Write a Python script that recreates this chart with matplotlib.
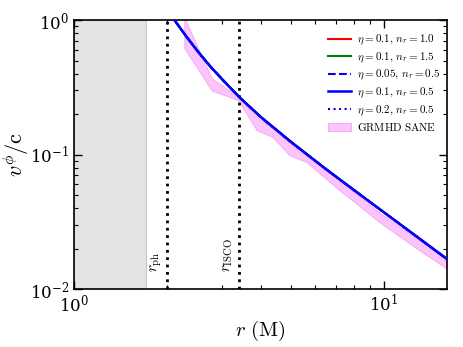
import numpy as np
import matplotlib.pyplot as plt

plt.rcParams['mathtext.fontset'] = 'cm'
plt.rcParams['font.family'] = 'DejaVu Serif'

# characteristic radii (M)
r_horizon = 1.713
r_ph = 2.0
r_isco = 3.40

# model curve v^phi/c vs r
r_model = [2.11, 2.3, 2.5, 2.75, 3.0, 3.43, 4.0, 5.0, 6.5, 9.0, 12.5, 15.9, 16.3]
v_model = [1.0, 0.759, 0.591, 0.454, 0.365, 0.265, 0.191, 0.125, 0.0781, 0.0446, 0.0255, 0.0169, 0.0162]

# GRMHD SANE band
r_band = [2.27, 2.78, 3.38, 3.89, 4.38, 4.96, 5.63, 7.19, 9.68, 13.0, 15.9, 16.3]
v_low = [0.62, 0.30, 0.255, 0.152, 0.135, 0.099, 0.088, 0.0545, 0.0315, 0.0195, 0.0143, 0.0138]
v_high = [1.05, 0.37, 0.272, 0.19, 0.158, 0.122, 0.098, 0.064, 0.037, 0.0232, 0.0166, 0.0160]

fig = plt.figure(figsize=(4.63, 3.47), dpi=100)
ax = fig.add_axes([0.160, 0.167, 0.8054, 0.775])

ax.axvspan(1.0, r_horizon, facecolor='#e3e3e3', edgecolor='#c8c8c8', lw=0.8, zorder=0)
ax.fill_between(r_band, v_low, v_high, facecolor='#fcc4fc', edgecolor='#f4a4f4',
                lw=0.6, label=r'$\mathrm{GRMHD\ SANE}$', zorder=1)

ax.plot(r_model, v_model, color='red', lw=1.5, label=r'$\eta=0.1,\,n_r=1.0$', zorder=2)
ax.plot(r_model, v_model, color='green', lw=1.5, label=r'$\eta=0.1,\,n_r=1.5$', zorder=2)
ax.plot(r_model, v_model, color='blue', lw=1.5, ls='--', label=r'$\eta=0.05,\,n_r=0.5$', zorder=2)
ax.plot(r_model, v_model, color='blue', lw=1.8, label=r'$\eta=0.1,\,n_r=0.5$', zorder=4)
ax.plot(r_model, v_model, color='blue', lw=1.5, ls=':', label=r'$\eta=0.2,\,n_r=0.5$', zorder=3)

ax.axvline(r_ph, color='black', ls=':', lw=2, zorder=3)
ax.axvline(r_isco, color='black', ls=':', lw=2, zorder=3)
ax.text(r_ph * 0.975, 0.0135, r'$r_{\mathrm{ph}}$', rotation=90, ha='right', va='bottom', fontsize=11)
ax.text(r_isco * 0.975, 0.0135, r'$r_{\mathrm{ISCO}}$', rotation=90, ha='right', va='bottom', fontsize=11)

ax.set_xscale('log')
ax.set_yscale('log')
ax.set_xlim(1, 16)
ax.set_ylim(0.01, 1)
ax.set_xlabel(r'$r\ (\mathrm{M})$', fontsize=15, labelpad=2)
ax.set_ylabel(r'$v^{\phi}/\mathrm{c}$', fontsize=16)
ax.yaxis.set_label_coords(-0.115, 0.5)
ax.tick_params(which='both', direction='in', top=True, right=True, labelsize=12)
ax.tick_params(which='major', length=6, width=1)
ax.tick_params(which='minor', length=3, width=0.8)
for s in ax.spines.values():
    s.set_linewidth(1.2)

handles, labels = ax.get_legend_handles_labels()
order = [1, 2, 3, 4, 5, 0]
ax.legend([handles[i] for i in order], [labels[i] for i in order], loc='upper right',
          bbox_to_anchor=(1.01, 0.99), frameon=False, fontsize=8, handlelength=2.0,
          handletextpad=0.6, labelspacing=0.3)

fig.savefig('out.png', dpi=100)
